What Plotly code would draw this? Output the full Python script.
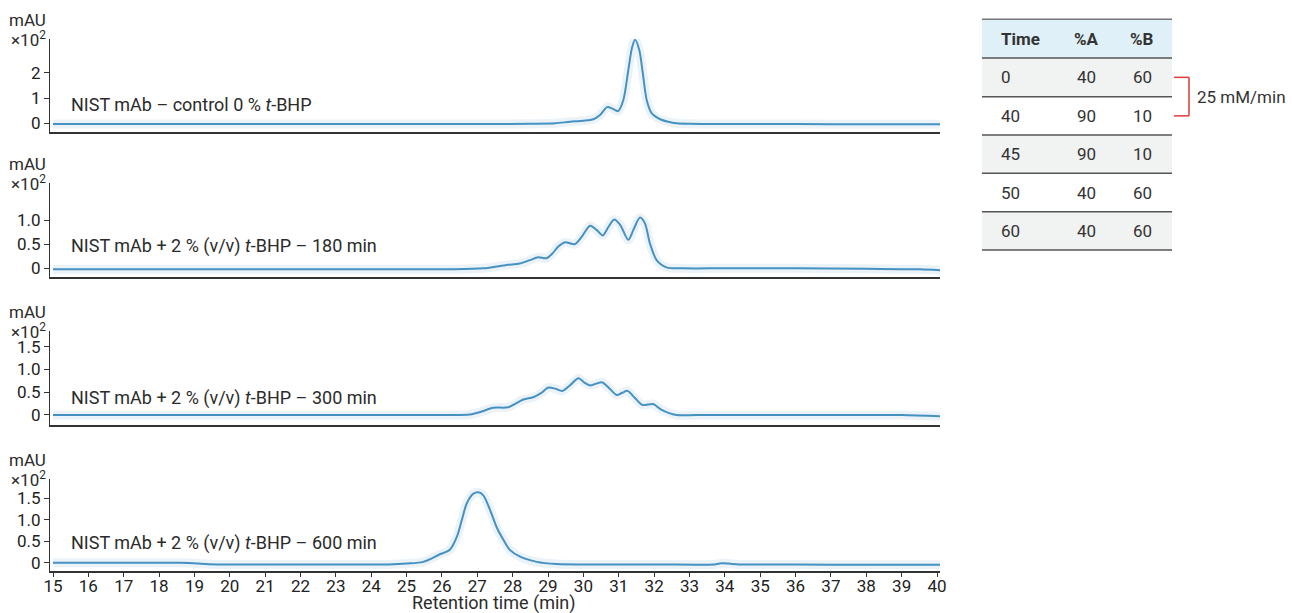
import plotly.graph_objects as go

# ---------------- data ----------------
t_ctrl = [15.0, 17, 19, 21, 23, 25, 27, 28.5, 29.2, 29.62, 30.0, 30.28, 30.47, 30.67, 30.82, 30.98,
          31.13, 31.27, 31.37, 31.46, 31.58, 31.68, 31.79, 31.93, 32.17, 32.4, 32.64, 33.0, 34, 36, 38, 40.1]
v_ctrl = [-0.03, -0.03, -0.03, -0.03, -0.03, -0.03, -0.03, -0.02, 0.0, 0.06, 0.1, 0.16, 0.33, 0.64, 0.58, 0.48,
          0.92, 2.1, 2.96, 3.3, 2.9, 1.98, 0.92, 0.4, 0.16, 0.06, 0.0, -0.02, -0.03, -0.03, -0.04, -0.04]

t_180 = [15.0, 17, 19, 21, 23, 25, 26.23, 27.17, 27.83, 28.2, 28.49, 28.72, 28.96, 29.14, 29.29, 29.48,
         29.76, 29.95, 30.19, 30.38, 30.55, 30.71, 30.87, 31.04, 31.27, 31.41, 31.6, 31.74, 31.88, 32.07,
         32.35, 32.82, 34, 36, 38, 39.5, 40.1]
v_180 = [-0.02, -0.02, -0.02, -0.02, -0.02, -0.02, -0.02, 0.0, 0.07, 0.1, 0.17, 0.23, 0.21, 0.32, 0.45, 0.54,
         0.5, 0.65, 0.88, 0.79, 0.68, 0.86, 1.01, 0.9, 0.59, 0.79, 1.05, 0.93, 0.52, 0.17,
         0.02, 0.0, 0.0, 0.0, -0.01, -0.02, -0.04]

t_300 = [15.0, 17, 19, 21, 23, 25, 26.0, 26.79, 27.1, 27.45, 27.87, 28.3, 28.58, 28.8, 29.0, 29.2, 29.41,
         29.63, 29.86, 30.03, 30.19, 30.52, 30.73, 30.94, 31.1, 31.25, 31.45, 31.67, 31.97, 32.2, 32.63,
         33.2, 35, 37, 39, 40.1]
v_300 = [0.0, 0.0, 0.0, 0.0, 0.0, 0.0, 0.0, 0.01, 0.07, 0.16, 0.17, 0.34, 0.39, 0.48, 0.6, 0.58, 0.53,
         0.66, 0.81, 0.71, 0.65, 0.72, 0.59, 0.44, 0.49, 0.53, 0.38, 0.22, 0.24, 0.12, 0.0,
         0.0, 0.0, 0.0, 0.0, -0.03]

t_600 = [15.0, 17, 18.6, 19.0, 19.2, 19.4, 19.8, 21, 23, 24.5, 25.0, 25.47, 25.9, 26.23, 26.42, 26.56, 26.7,
         26.89, 27.03, 27.17, 27.36, 27.55, 27.74, 27.92, 28.21, 28.68, 29.25, 30, 32, 33.7, 33.9, 34.1,
         34.4, 36, 38, 40.1]
v_600 = [0.0, 0.0, 0.0, -0.01, -0.025, -0.035, -0.04, -0.04, -0.04, -0.04, -0.02, 0.02, 0.18, 0.31, 0.6,
         0.99, 1.38, 1.61, 1.64, 1.57, 1.23, 0.82, 0.53, 0.3, 0.14, 0.02, -0.03, -0.04, -0.04, -0.04,
         -0.015, -0.02, -0.04, -0.04, -0.05, -0.05]

panel_labels = [
    "NIST mAb – control 0 % <i>t</i>-BHP",
    "NIST mAb + 2 % (v/v) <i>t</i>-BHP – 180 min",
    "NIST mAb + 2 % (v/v) <i>t</i>-BHP – 300 min",
    "NIST mAb + 2 % (v/v) <i>t</i>-BHP – 600 min",
]
y_tickvals = [[0, 1, 2], [0, 0.5, 1.0], [0, 0.5, 1.0, 1.5], [0, 0.5, 1.0, 1.5]]
y_ticktext = [["0", "1", "2"], ["0", "0.5", "1.0"], ["0", "0.5", "1.0", "1.5"], ["0", "0.5", "1.0", "1.5"]]
x_ticks = list(range(15, 41))

tbl_header = ["Time", "%A", "%B"]
tbl_time = [0, 40, 45, 50, 60]
tbl_A = [40, 90, 90, 40, 40]
tbl_B = [60, 10, 10, 60, 60]
bracket_label = "25 mM/min"

# ---------------- layout geometry (pixels) ----------------
W, H = 1292, 613
X0, X1 = 50, 940
panels_px = [(39, 131.7), (183.3, 277.3), (330.7, 425), (479, 570.7)]
y_ranges = [[-0.332, 3.332], [-0.186, 1.760], [-0.22, 1.853], [-0.186, 1.950]]
label_y_px = [104, 246, 398, 543]

def px(x):
    return x / W

def py(y):
    return 1 - y / H

FONT = "Roboto, Open Sans, sans-serif"
TXT = "#2b2b2b"
LINE_C = "#4591c2"
GLOW_C = "rgba(90,160,205,0.12)"

series = [(t_ctrl, v_ctrl), (t_180, v_180), (t_300, v_300), (t_600, v_600)]

fig = go.Figure()
for i, (t, v) in enumerate(series):
    n = "" if i == 0 else str(i + 1)
    fig.add_trace(go.Scatter(x=t, y=v, mode="lines", xaxis="x" + n, yaxis="y" + n,
                             line=dict(color=GLOW_C, width=9, shape="spline", smoothing=0.8),
                             hoverinfo="skip", showlegend=False))
    fig.add_trace(go.Scatter(x=t, y=v, mode="lines", xaxis="x" + n, yaxis="y" + n,
                             line=dict(color=LINE_C, width=2, shape="spline", smoothing=0.8),
                             showlegend=False))

layout = dict(
    width=W, height=H,
    margin=dict(l=0, r=0, t=0, b=0),
    paper_bgcolor="white", plot_bgcolor="white",
    font=dict(family=FONT, size=17, color=TXT),
    showlegend=False,
)

xr = [15 - (53 - X0) / 35.36, 40 + (X1 - 937) / 35.36]
for i in range(4):
    n = "" if i == 0 else str(i + 1)
    top, bot = panels_px[i]
    last = (i == 3)
    layout["xaxis" + n] = dict(
        domain=[px(X0), px(X1)], range=xr, anchor="y" + n,
        showline=True, linecolor="#333333", linewidth=1.5, showgrid=False, zeroline=False,
        ticks="outside" if last else "", ticklen=5, tickwidth=1.2, tickcolor="#333333",
        tickvals=x_ticks, showticklabels=last, tickfont=dict(size=17, color="#222222"),
        ticklabelstandoff=-6,
        automargin=False,
    )
    if i > 0:
        layout["xaxis" + n]["matches"] = "x"
    layout["yaxis" + n] = dict(
        domain=[py(bot), py(top)], range=y_ranges[i], anchor="x" + n,
        showline=True, linecolor="#333333", linewidth=1.2, showgrid=False, zeroline=False,
        ticks="outside", ticklen=5, tickwidth=1.2, tickcolor="#333333",
        tickvals=y_tickvals[i], ticktext=y_ticktext[i], tickfont=dict(size=17, color="#222222"),
        automargin=False,
    )
fig.update_layout(**layout)

annotations = []
shapes = []
for i in range(4):
    top, bot = panels_px[i]
    annotations.append(dict(x=px(48), y=py(top - 19), xref="paper", yref="paper", text="mAU",
                            showarrow=False, xanchor="right", yanchor="middle", font=dict(size=17)))
    annotations.append(dict(x=px(48), y=py(top), xref="paper", yref="paper", text="×10<sup>2</sup>",
                            showarrow=False, xanchor="right", yanchor="middle", font=dict(size=17)))
    annotations.append(dict(x=px(69), y=py(label_y_px[i]), xref="paper", yref="paper", text=panel_labels[i],
                            showarrow=False, xanchor="left", yanchor="middle", font=dict(size=18)))

annotations.append(dict(x=px(494), y=py(603), xref="paper", yref="paper", text="Retention time (min)",
                        showarrow=False, xanchor="center", yanchor="middle", font=dict(size=18)))

# ---------------- gradient table ----------------
TL, TR = 982, 1172
row_edges = [19.3, 58, 96.7, 135, 173.3, 211.7, 250]
col_x = [999, 1086, 1142]
col_anchor = ["left", "center", "center"]
fills = ["#dff0f8", "#f1f2f2", "#ffffff", "#f1f2f2", "#ffffff", "#f1f2f2"]
for r in range(6):
    shapes.append(dict(type="rect", xref="paper", yref="paper", x0=px(TL), x1=px(TR),
                       y0=py(row_edges[r + 1]), y1=py(row_edges[r]), fillcolor=fills[r],
                       line=dict(width=0), layer="below"))
for k, e in enumerate(row_edges):
    shapes.append(dict(type="line", xref="paper", yref="paper", x0=px(TL), x1=px(TR), y0=py(e), y1=py(e),
                       line=dict(color="#555555" if k else "#777777", width=1.6)))
for c in range(3):
    annotations.append(dict(x=px(col_x[c]), y=py((row_edges[0] + row_edges[1]) / 2), xref="paper", yref="paper",
                            text="<b>%s</b>" % tbl_header[c], showarrow=False, xanchor=col_anchor[c],
                            yanchor="middle", font=dict(size=17, color="#333333")))
for r in range(5):
    yc = (row_edges[r + 1] + row_edges[r + 2]) / 2
    for c, val in enumerate([tbl_time[r], tbl_A[r], tbl_B[r]]):
        annotations.append(dict(x=px(col_x[c]), y=py(yc), xref="paper", yref="paper", text=str(val),
                                showarrow=False, xanchor=col_anchor[c], yanchor="middle",
                                font=dict(size=17, color="#333333")))

# red bracket for the gradient slope
y_a = (row_edges[1] + row_edges[2]) / 2
y_b = (row_edges[2] + row_edges[3]) / 2
for (xa, ya, xb, yb) in [(1174, y_a, 1189, y_a), (1189, y_a, 1189, y_b), (1174, y_b, 1189, y_b)]:
    shapes.append(dict(type="line", xref="paper", yref="paper", x0=px(xa), x1=px(xb), y0=py(ya), y1=py(yb),
                       line=dict(color="#e03a3a", width=1.5)))
annotations.append(dict(x=px(1195), y=py((y_a + y_b) / 2), xref="paper", yref="paper", text=bracket_label,
                        showarrow=False, xanchor="left", yanchor="middle", font=dict(size=17, color="#333333")))

fig.update_layout(annotations=annotations, shapes=shapes)
fig.write_html("out.html", config={"displayModeBar": False},
               post_script="document.body.style.margin='0';document.body.style.padding='0';"
                           "document.body.style.overflow='hidden';")
